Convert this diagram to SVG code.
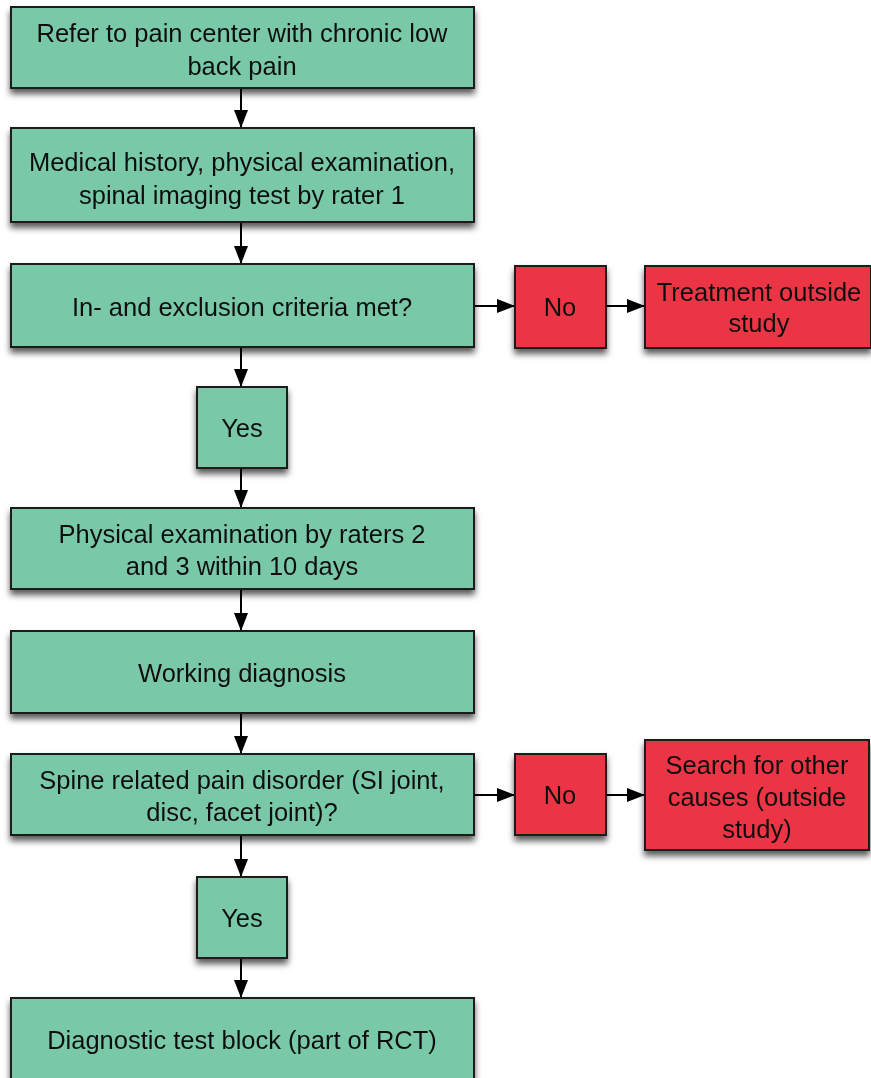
<svg xmlns="http://www.w3.org/2000/svg" width="871" height="1078" viewBox="0 0 871 1078">
<style>
.g{fill:#79c9a9;stroke:#1a1a1a;stroke-width:2}
.r{fill:#eb3545;stroke:#1a1a1a;stroke-width:2}
text{font-family:"Liberation Sans",Arial,sans-serif;font-size:25.5px;fill:#111;text-anchor:middle}
.c line{stroke:#000;stroke-width:2;marker-end:url(#ah)}
</style>
<defs>
<filter id="sh" x="-10%" y="-10%" width="120%" height="130%">
<feDropShadow dx="0" dy="5" stdDeviation="3" flood-color="#000" flood-opacity="0.65"/>
</filter>
<marker id="ah" viewBox="0 0 18 14" refX="18" refY="7" markerWidth="18" markerHeight="14" orient="auto" markerUnits="userSpaceOnUse">
<path d="M0,0 L18,7 L0,14 z" fill="#000"/>
</marker>
</defs>
<rect width="871" height="1078" fill="#fff"/>
<g class="c">
<line x1="241" y1="89" x2="241" y2="128"/>
<line x1="241" y1="223" x2="241" y2="264"/>
<line x1="241" y1="348" x2="241" y2="387"/>
<line x1="241" y1="469" x2="241" y2="508"/>
<line x1="241" y1="590" x2="241" y2="631"/>
<line x1="241" y1="713" x2="241" y2="754"/>
<line x1="241" y1="836" x2="241" y2="877"/>
<line x1="241" y1="959" x2="241" y2="998"/>
<line x1="475" y1="306" x2="515" y2="306"/>
<line x1="606" y1="306" x2="645" y2="306"/>
<line x1="475" y1="795" x2="515" y2="795"/>
<line x1="606" y1="795" x2="645" y2="795"/>
</g>
<g id="n1" filter="url(#sh)"><rect class="g" x="11" y="7" width="463" height="81"/><text x="242" y="42">Refer to pain center with chronic low</text><text x="242" y="75">back pain</text></g>
<g id="n2" filter="url(#sh)"><rect class="g" x="11" y="128" width="463" height="94"/><text x="242" y="171">Medical history, physical examination,</text><text x="242" y="204">spinal imaging test by rater 1</text></g>
<g id="n3" filter="url(#sh)"><rect class="g" x="11" y="264" width="463" height="83"/><text x="242" y="316">In- and exclusion criteria met?</text></g>
<g id="n4" filter="url(#sh)"><rect class="r" x="515" y="266" width="91" height="82"/><text x="560" y="316">No</text></g>
<g id="n5" filter="url(#sh)"><rect class="r" x="645" y="266" width="226" height="82"/><text x="759" y="301">Treatment outside</text><text x="759" y="332">study</text></g>
<g id="n6" filter="url(#sh)"><rect class="g" x="197" y="387" width="90" height="81"/><text x="242" y="437">Yes</text></g>
<g id="n7" filter="url(#sh)"><rect class="g" x="11" y="508" width="463" height="81"/><text x="242" y="543">Physical examination by raters 2</text><text x="242" y="575">and 3 within 10 days</text></g>
<g id="n8" filter="url(#sh)"><rect class="g" x="11" y="631" width="463" height="82"/><text x="242" y="682">Working diagnosis</text></g>
<g id="n9" filter="url(#sh)"><rect class="g" x="11" y="754" width="463" height="81"/><text x="242" y="789">Spine related pain disorder (SI joint,</text><text x="242" y="821">disc, facet joint)?</text></g>
<g id="n10" filter="url(#sh)"><rect class="r" x="515" y="754" width="91" height="81"/><text x="560" y="804">No</text></g>
<g id="n11" filter="url(#sh)"><rect class="r" x="645" y="740" width="224" height="110"/><text x="757" y="774">Search for other</text><text x="757" y="806">causes (outside</text><text x="757" y="838">study)</text></g>
<g id="n12" filter="url(#sh)"><rect class="g" x="197" y="877" width="90" height="81"/><text x="242" y="927">Yes</text></g>
<g id="n13" filter="url(#sh)"><rect class="g" x="11" y="998" width="463" height="90"/><text x="242" y="1049">Diagnostic test block (part of RCT)</text></g>
</svg>
